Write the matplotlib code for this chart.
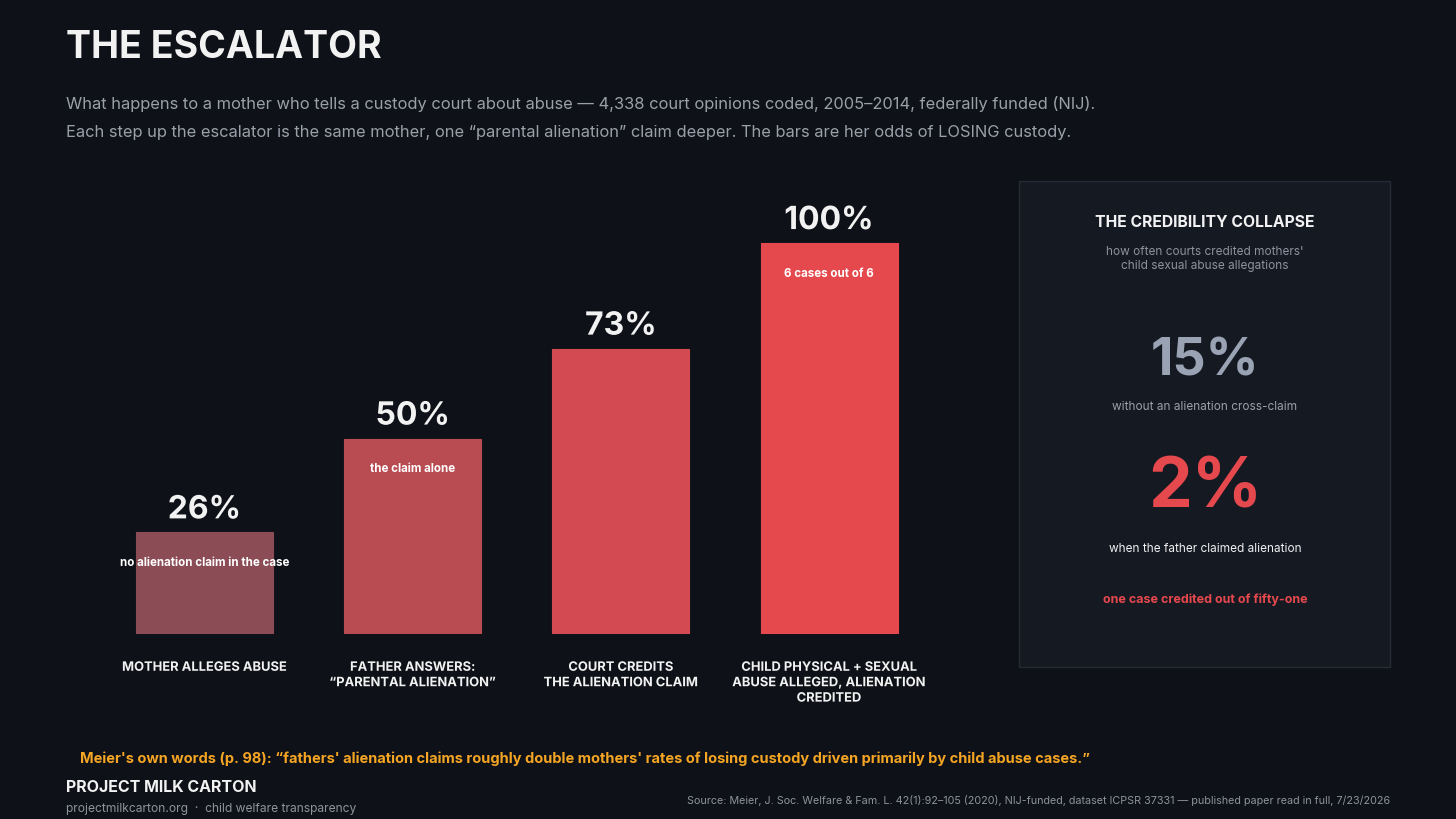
import matplotlib
matplotlib.use("Agg")
import matplotlib.pyplot as plt
import matplotlib.patheffects as pe
from matplotlib.patches import Rectangle

plt.rcParams['font.family'] = ['Inter', 'DejaVu Sans']

# ---- data ----
categories = ["MOTHER ALLEGES ABUSE",
              "FATHER ANSWERS:\n\u201cPARENTAL ALIENATION\u201d",
              "COURT CREDITS\nTHE ALIENATION CLAIM",
              "CHILD PHYSICAL + SEXUAL\nABUSE ALLEGED, ALIENATION\nCREDITED"]
loss_pct = [26, 50, 73, 100]
value_labels = ["26%", "50%", "73%", "100%"]
inner_notes = ["no alienation claim in the case", "the claim alone", "", "6 cases out of 6"]
bar_colors = ["#8b4c56", "#b94b53", "#d44a52", "#e5484d"]

credit_without = "15%"
credit_with = "2%"

W, H = 1456, 819
BG = "#0e1117"
fig = plt.figure(figsize=(W / 100, H / 100), dpi=100, facecolor=BG)

def fx(x):
    return x / W

def fy(y):
    return 1 - y / H

# ---- bar axes ----
ax_left, ax_right = 100, 934
ax_top, ax_bot = 190, 634
ax = fig.add_axes([fx(ax_left), fy(ax_bot), (ax_right - ax_left) / W, (ax_bot - ax_top) / H])
ax.set_facecolor(BG)
spacing = 208.2
ax.set_xlim(-(204.5 - ax_left) / spacing, 3 + (ax_right - 829) / spacing)
px_per_pct = 391 / 100
ax.set_ylim(0, (ax_bot - ax_top) / px_per_pct)
for s in ax.spines.values():
    s.set_visible(False)
ax.set_xticks([])
ax.set_yticks([])

xs = list(range(len(loss_pct)))
ax.bar(xs, loss_pct, width=137 / spacing, color=bar_colors,
       edgecolor=[c for c in bar_colors], linewidth=0.8, zorder=2)

stroke = [pe.withStroke(linewidth=3, foreground="#0e1117")]
for x, v, lab, note in zip(xs, loss_pct, value_labels, inner_notes):
    ax.annotate(lab, (x, v), xytext=(0, 5), textcoords="offset points",
                ha="center", va="bottom", fontsize=23, fontweight="bold",
                color="#f2f2f2", path_effects=stroke, zorder=4)
    if note:
        ax.annotate(note, (x, v), xytext=(0, -22), textcoords="offset points",
                    ha="center", va="center", fontsize=8.3, fontweight="bold",
                    color="#ffffff", zorder=4)

for x, cat in zip(xs, categories):
    ax.annotate(cat, (x, 0), xytext=(0, -20), textcoords="offset points",
                ha="center", va="top", fontsize=9.3, fontweight="bold",
                color="#f2f2f2", linespacing=1.38, annotation_clip=False,
                path_effects=[pe.withStroke(linewidth=2, foreground=BG)])

# ---- title & subtitle ----
fig.text(fx(66), fy(48), "THE ESCALATOR", fontsize=27, fontweight="bold",
         color="#f2f2f2", ha="left", va="center")
fig.text(fx(66), fy(104),
         "What happens to a mother who tells a custody court about abuse \u2014 4,338 court opinions coded, 2005\u20132014, federally funded (NIJ).",
         fontsize=11.85, color="#9aa0aa", ha="left", va="center")
fig.text(fx(66), fy(132),
         "Each step up the escalator is the same mother, one \u201cparental alienation\u201d claim deeper. The bars are her odds of LOSING custody.",
         fontsize=11.85, color="#9aa0aa", ha="left", va="center")

# ---- right panel ----
panel = Rectangle((fx(1019), fy(667)), (1390 - 1019) / W, (667 - 181) / H,
                  transform=fig.transFigure, facecolor="#151922",
                  edgecolor="#262b35", linewidth=1, zorder=0)
fig.patches.append(panel)
cx = fx(1205)
fig.text(cx, fy(223), "THE CREDIBILITY COLLAPSE", fontsize=11.3, fontweight="bold",
         color="#f2f2f2", ha="center", va="center")
fig.text(cx, fy(259), "how often courts credited mothers'\nchild sexual abuse allegations",
         fontsize=8.5, color="#8d939e", ha="center", va="center", linespacing=1.2)
fig.text(cx, fy(362), credit_without, fontsize=37.5, fontweight="bold",
         color="#9aa3b3", ha="center", va="center")
fig.text(cx, fy(407), "without an alienation cross-claim", fontsize=8.5,
         color="#9aa0aa", ha="center", va="center")
fig.text(cx, fy(489), credit_with, fontsize=50, fontweight="bold",
         color="#e5484d", ha="center", va="center")
fig.text(cx, fy(549), "when the father claimed alienation", fontsize=8.5,
         color="#f0f0f0", ha="center", va="center")
fig.text(cx, fy(600), "one case credited out of fifty-one", fontsize=9, fontweight="bold",
         color="#e5484d", ha="center", va="center")

# ---- bottom ----
fig.text(fx(80), fy(759),
         "Meier's own words (p. 98): \u201cfathers' alienation claims roughly double mothers' rates of losing custody driven primarily by child abuse cases.\u201d",
         fontsize=10.5, fontweight="bold", color="#f5a524", ha="left", va="center")
fig.text(fx(66), fy(788), "PROJECT MILK CARTON", fontsize=11.5, fontweight="bold",
         color="#f2f2f2", ha="left", va="center")
fig.text(fx(66), fy(809), "projectmilkcarton.org  \u00b7  child welfare transparency",
         fontsize=8.7, color="#8d939e", ha="left", va="center")
fig.text(fx(1390), fy(801),
         "Source: Meier, J. Soc. Welfare & Fam. L. 42(1):92\u2013105 (2020), NIJ-funded, dataset ICPSR 37331 \u2014 published paper read in full, 7/23/2026",
         fontsize=7.75, color="#8d939e", ha="right", va="center")

fig.savefig("out.png", dpi=100, facecolor=BG)
